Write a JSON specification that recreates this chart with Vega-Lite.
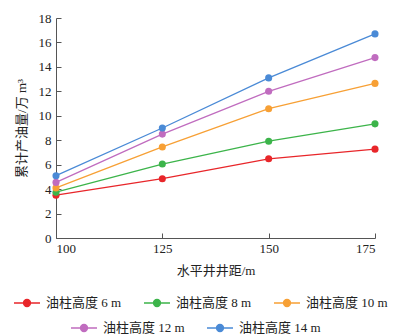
{
  "$schema": "https://vega.github.io/schema/vega-lite/v6.json",
  "width": 319,
  "height": 220,
  "autosize": "none",
  "padding": {"left": 56, "top": 18, "right": 24, "bottom": 96},
  "config": {
    "view": {"stroke": null},
    "font": "Liberation Serif",
    "axis": {"grid": false, "domainColor": "#555", "tickColor": "#555", "labelColor": "#222", "titleColor": "#222", "labelFont": "Liberation Serif", "labelFontSize": 13, "titleFont": "Liberation Serif, Noto Sans CJK SC", "titleFontSize": 13, "titleFontWeight": "normal"},
    "legend": {"title": null, "orient": "none", "direction": "horizontal", "labelFont": "Liberation Serif, Noto Sans CJK SC", "labelFontSize": 13, "labelColor": "#222", "symbolType": "M-1,0H1M-0.27,0A0.27,0.27 0 1,0 0.27,0A0.27,0.27 0 1,0 -0.27,0", "symbolSize": 676, "symbolStrokeWidth": 1.3, "columnPadding": 19, "labelOffset": 5}
  },
  "datasets": {
    "rows": [
      {"d": 100, "v": 3.5, "s": "油柱高度 6 m"},
      {"d": 125, "v": 4.85, "s": "油柱高度 6 m"},
      {"d": 150, "v": 6.48, "s": "油柱高度 6 m"},
      {"d": 175, "v": 7.27, "s": "油柱高度 6 m"},
      {"d": 100, "v": 3.75, "s": "油柱高度 8 m"},
      {"d": 125, "v": 6.05, "s": "油柱高度 8 m"},
      {"d": 150, "v": 7.92, "s": "油柱高度 8 m"},
      {"d": 175, "v": 9.34, "s": "油柱高度 8 m"},
      {"d": 100, "v": 4.1, "s": "油柱高度 10 m"},
      {"d": 125, "v": 7.45, "s": "油柱高度 10 m"},
      {"d": 150, "v": 10.58, "s": "油柱高度 10 m"},
      {"d": 175, "v": 12.65, "s": "油柱高度 10 m"},
      {"d": 100, "v": 4.55, "s": "油柱高度 12 m"},
      {"d": 125, "v": 8.5, "s": "油柱高度 12 m"},
      {"d": 150, "v": 12.0, "s": "油柱高度 12 m"},
      {"d": 175, "v": 14.76, "s": "油柱高度 12 m"},
      {"d": 100, "v": 5.1, "s": "油柱高度 14 m"},
      {"d": 125, "v": 9.0, "s": "油柱高度 14 m"},
      {"d": 150, "v": 13.1, "s": "油柱高度 14 m"},
      {"d": 175, "v": 16.7, "s": "油柱高度 14 m"}
    ]
  },
  "data": {"name": "rows"},
  "encoding": {
    "x": {"field": "d", "type": "quantitative", "scale": {"domain": [100, 175], "nice": false}, "axis": {"values": [100, 125, 150, 175], "title": "水平井井距/m", "tickSize": -5, "labelPadding": 9, "titlePadding": 9}},
    "y": {"field": "v", "type": "quantitative", "scale": {"domain": [0, 18], "nice": false}, "axis": {"values": [0, 2, 4, 6, 8, 10, 12, 14, 16, 18], "title": "累计产油量/万 m³", "tickSize": -5, "labelPadding": 10, "titlePadding": 10, "labelOverlap": false}}
  },
  "layer": [
    {
      "transform": [{"filter": {"field": "s", "oneOf": ["油柱高度 6 m", "油柱高度 8 m", "油柱高度 10 m"]}}],
      "mark": {"type": "line", "point": {"size": 50, "filled": true, "opacity": 1}, "strokeWidth": 1.3},
      "encoding": {
        "color": {"field": "s", "type": "nominal",
          "scale": {"domain": ["油柱高度 6 m", "油柱高度 8 m", "油柱高度 10 m"], "range": ["#e8262a", "#3cb44a", "#f7a035"]},
          "legend": {"legendX": -43, "legendY": 271}}
      }
    },
    {
      "transform": [{"filter": {"field": "s", "oneOf": ["油柱高度 12 m", "油柱高度 14 m"]}}],
      "mark": {"type": "line", "point": {"size": 50, "filled": true, "opacity": 1}, "strokeWidth": 1.3},
      "encoding": {
        "color": {"field": "s", "type": "nominal",
          "scale": {"domain": ["油柱高度 12 m", "油柱高度 14 m"], "range": ["#c06cbf", "#4a8ad6"]},
          "legend": {"legendX": 14, "legendY": 296}}
      }
    }
  ],
  "resolve": {"scale": {"color": "independent"}}
}
